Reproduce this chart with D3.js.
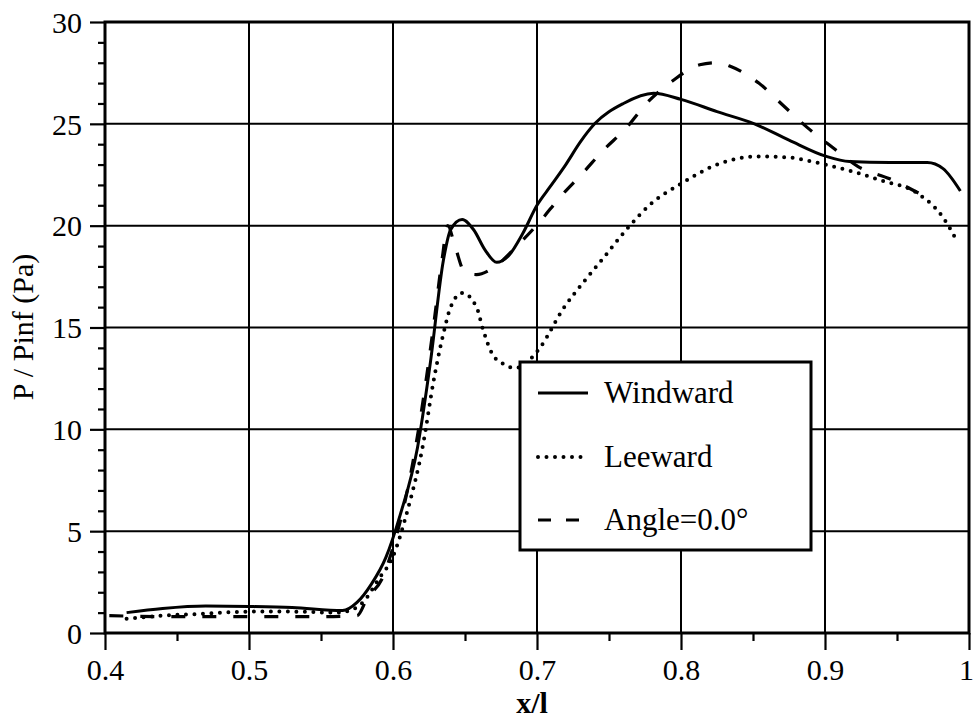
<!DOCTYPE html>
<html><head><meta charset="utf-8">
<script src="https://cdn.jsdelivr.net/npm/d3@7"></script>
<style>
html,body{margin:0;padding:0;background:#fff;}
svg{display:block;}
</style></head>
<body>
<svg id="c" width="973" height="721"></svg>
<script>
const FONT = '"Liberation Serif"';
const xMajor = [0.4, 0.5, 0.6, 0.7, 0.8, 0.9, 1.0];
const xMajorLabels = ["0.4", "0.5", "0.6", "0.7", "0.8", "0.9", "1"];
const xMinor = [0.45, 0.55, 0.65, 0.75, 0.85, 0.95];
const yMajor = [0, 5, 10, 15, 20, 25, 30];
const yMinor = [1,2,3,4,6,7,8,9,11,12,13,14,16,17,18,19,21,22,23,24,26,27,28,29];

const windX = [0.415, 0.44, 0.47, 0.50, 0.53, 0.565, 0.575, 0.585, 0.595, 0.605, 0.617, 0.626, 0.635, 0.640, 0.648, 0.656, 0.664, 0.672, 0.680, 0.690, 0.700, 0.709, 0.720, 0.730, 0.740, 0.760, 0.781, 0.800, 0.825, 0.851, 0.875, 0.901, 0.917, 0.945, 0.971, 0.982, 0.994];
const windY = [1.0, 1.2, 1.32, 1.3, 1.25, 1.1, 1.5, 2.4, 3.7, 5.8, 9.1, 13.3, 18.3, 19.8, 20.3, 19.8, 18.8, 18.2, 18.5, 19.6, 21.0, 21.9, 23.0, 24.1, 25.0, 26.0, 26.5, 26.2, 25.6, 25.0, 24.2, 23.4, 23.15, 23.1, 23.1, 22.8, 21.7];

const leeX = [0.415, 0.44, 0.47, 0.50, 0.53, 0.56, 0.570, 0.579, 0.591, 0.599, 0.610, 0.621, 0.628, 0.635, 0.640, 0.648, 0.658, 0.6625, 0.669, 0.677, 0.685, 0.693, 0.702, 0.718, 0.732, 0.746, 0.762, 0.778, 0.801, 0.825, 0.853, 0.875, 0.894, 0.917, 0.940, 0.964, 0.982, 0.992];
const leeY = [0.7, 0.85, 0.95, 1.05, 1.05, 1.0, 1.1, 1.5, 2.75, 3.6, 6.0, 9.3, 12.3, 14.7, 16.0, 16.7, 16.0, 14.9, 13.7, 13.2, 13.0, 13.3, 14.0, 15.9, 17.2, 18.4, 19.8, 21.0, 22.1, 23.0, 23.4, 23.35, 23.1, 22.7, 22.2, 21.6, 20.4, 19.2];

const angX = [0.403, 0.45, 0.50, 0.55, 0.575, 0.582, 0.593, 0.600, 0.610, 0.620, 0.628, 0.634, 0.638, 0.643, 0.650, 0.658, 0.669, 0.686, 0.702, 0.716, 0.732, 0.746, 0.762, 0.776, 0.794, 0.813, 0.825, 0.835, 0.854, 0.871, 0.888, 0.906, 0.923, 0.945, 0.965];
const angY = [0.85, 0.8, 0.8, 0.8, 0.85, 1.7, 2.75, 4.2, 7.0, 11.0, 15.0, 18.3, 20.0, 19.0, 17.7, 17.6, 17.9, 19.0, 20.2, 21.4, 22.6, 23.7, 24.8, 26.0, 27.1, 27.9, 28.0, 27.8, 27.0, 25.9, 24.8, 23.8, 22.9, 22.3, 21.6];

const seriesNames = ["Windward", "Leeward", "Angle=0.0\u00B0"];

const svg = d3.select("#c");
const L = 105, R = 969, T = 22, B = 633;
const x = d3.scaleLinear().domain([0.4, 1.0]).range([L, R]);
const y = d3.scaleLinear().domain([0, 30]).range([B, T]);

// gridlines
const g = svg.append("g");
g.selectAll("line.vg").data(xMajor).join("line")
  .attr("x1", d => x(d)).attr("x2", d => x(d)).attr("y1", T).attr("y2", B)
  .attr("stroke", "#000").attr("stroke-width", 2);
g.selectAll("line.hg").data(yMajor).join("line")
  .attr("x1", L).attr("x2", R).attr("y1", d => y(d)).attr("y2", d => y(d))
  .attr("stroke", "#000").attr("stroke-width", 2);

// axes
function styleAxis(sel){
  sel.select(".domain").remove();
  sel.selectAll("line").attr("stroke", "#000").attr("stroke-width", 2.2);
  sel.selectAll("text").attr("fill", "#000").style("font-family", FONT).style("font-size", "30px");
}
const xAx = svg.append("g").attr("transform", `translate(0,${B})`)
  .call(d3.axisBottom(x).tickValues(xMajor).tickSize(17).tickPadding(9).tickFormat((d,i) => xMajorLabels[i]));
styleAxis(xAx);
xAx.selectAll("text").filter((d,i) => i === xMajor.length - 1).attr("dx", "-3");
const xAxMin = svg.append("g").attr("transform", `translate(0,${B})`)
  .call(d3.axisBottom(x).tickValues(xMinor).tickSize(8).tickFormat(""));
styleAxis(xAxMin);
const yAx = svg.append("g").attr("transform", `translate(${L},0)`)
  .call(d3.axisLeft(y).tickValues(yMajor).tickSize(15).tickPadding(8).tickFormat(d3.format("d")));
styleAxis(yAx);
yAx.selectAll("text").attr("dy", "0.34em");
const yAxMin = svg.append("g").attr("transform", `translate(${L},0)`)
  .call(d3.axisLeft(y).tickValues(yMinor).tickSize(7).tickFormat(""));
styleAxis(yAxMin);

// frame
svg.append("rect").attr("x", L).attr("y", T).attr("width", R - L).attr("height", B - T)
  .attr("fill", "none").attr("stroke", "#000").attr("stroke-width", 3);

// lines
const line = d3.line().x(d => x(d[0])).y(d => y(d[1])).curve(d3.curveMonotoneX);
const zip = (a, b) => a.map((v, i) => [v, b[i]]);
const styles = [
  {w: 3, dash: null, cap: "butt"},
  {w: 4, dash: "0,8.5", cap: "round"},
  {w: 3.2, dash: "14,17", cap: "butt"}
];
const data = [zip(windX, windY), zip(leeX, leeY), zip(angX, angY)];
data.forEach((d, i) => {
  svg.append("path").datum(d).attr("d", line).attr("fill", "none")
    .attr("stroke", "#000").attr("stroke-width", styles[i].w)
    .attr("stroke-dasharray", styles[i].dash).attr("stroke-linecap", styles[i].cap);
});

// legend
const lg = svg.append("g");
lg.append("rect").attr("x", 520).attr("y", 362).attr("width", 291).attr("height", 188)
  .attr("fill", "#fff").attr("stroke", "#000").attr("stroke-width", 3);
const ly = [393, 457, 520];
seriesNames.forEach((n, i) => {
  lg.append("line").attr("x1", 538).attr("x2", 588).attr("y1", ly[i]).attr("y2", ly[i])
    .attr("stroke", "#000").attr("stroke-width", styles[i].w)
    .attr("stroke-dasharray", i === 2 ? "13,15" : styles[i].dash).attr("stroke-linecap", styles[i].cap);
  lg.append("text").attr("x", 604).attr("y", ly[i] + 10).text(n)
    .style("font-family", FONT).style("font-size", "31px").attr("fill", "#000");
});

// titles
svg.append("text").attr("x", 532).attr("y", 713).attr("text-anchor", "middle")
  .style("font-family", FONT).style("font-size", "30px").style("font-weight", "bold").text("x/l");
svg.append("text").attr("transform", "translate(33,327) rotate(-90)").attr("text-anchor", "middle")
  .style("font-family", FONT).style("font-size", "30px").text("P / Pinf (Pa)");
</script>
</body></html>
